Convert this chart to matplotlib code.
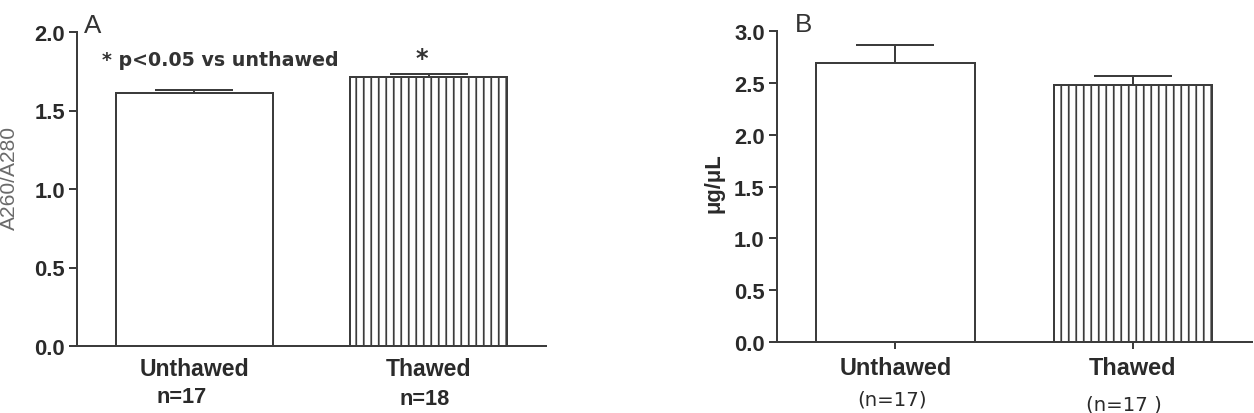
import matplotlib
matplotlib.use("Agg")
import matplotlib.pyplot as plt

# ---------------- data ----------------
groups = ["Unthawed", "Thawed"]
ratio_mean = [1.61, 1.715]
ratio_err = [0.02, 0.015]
ratio_n = ["n=17", "n=18"]
ratio_ticks = [0.0, 0.5, 1.0, 1.5, 2.0]

conc_mean = [2.69, 2.48]
conc_err = [0.17, 0.085]
conc_n = ["(n=17)", "(n=17 )"]
conc_ticks = [0.0, 0.5, 1.0, 1.5, 2.0, 2.5, 3.0]

# ---------------- style ----------------
DPI = 90
W, H = 1254, 414
PT = 72.0 / DPI          # points per pixel
LC = "#3c3c3c"           # line colour
TC = "#2a2a2a"           # text colour

plt.rcParams["font.family"] = ["Liberation Sans", "DejaVu Sans"]
plt.rcParams["hatch.linewidth"] = 1.4
plt.rcParams["hatch.color"] = LC

fig = plt.figure(figsize=(W / DPI, H / DPI), dpi=DPI)
fig.patch.set_facecolor("white")

axA = fig.add_axes([77 / W, 1 - 347 / H, 469 / W, 314 / H])
axB = fig.add_axes([776.7 / W, 1 - 343.3 / H, 474.8 / W, 311.6 / H])

x = list(range(len(groups)))
BAR_W = 0.668


def draw_panel(ax, means, errs, ticks, ymax, xticks_visible):
    bars = ax.bar(x, means, width=BAR_W, color="white", edgecolor=LC,
                  linewidth=1.6, zorder=2)
    bars[1].set_hatch("||")
    ax.errorbar(x, means, yerr=[[0] * len(errs), errs], fmt="none",
                ecolor=LC, elinewidth=1.6, capsize=39 * PT, capthick=1.6,
                zorder=3)
    ax.set_xlim(-0.5, 1.5)
    ax.set_ylim(0, ymax)
    ax.set_yticks(ticks)
    ax.set_yticklabels([f"{t:.1f}" for t in ticks])
    for s in ("top", "right"):
        ax.spines[s].set_visible(False)
    for s in ("left", "bottom"):
        ax.spines[s].set_color(LC)
        ax.spines[s].set_linewidth(1.6)
    ax.tick_params(axis="y", length=8 * PT, width=1.6, color=LC,
                   pad=4 * PT, labelsize=22 * PT, labelcolor=TC)
    for lab in ax.get_yticklabels():
        lab.set_fontweight("bold")
    ax.set_xticks(x)
    ax.set_xticklabels(["", ""])
    if xticks_visible:
        ax.tick_params(axis="x", length=7 * PT, width=1.6, color=LC)
    else:
        ax.tick_params(axis="x", length=0)


draw_panel(axA, ratio_mean, ratio_err, ratio_ticks, 2.0, False)
draw_panel(axB, conc_mean, conc_err, conc_ticks, 3.0, True)

# ---------------- category labels ----------------
def cat_label(ax, i, text, dx_px, dy_px, size_px, weight, family=None):
    kw = dict(xy=(i, 0), xycoords=("data", "axes fraction"),
              xytext=(dx_px * PT, -dy_px * PT), textcoords="offset points",
              ha="center", va="baseline", fontsize=size_px * PT,
              fontweight=weight, color=TC, annotation_clip=False)
    if family:
        kw["family"] = family
    ax.annotate(text, **kw)


for i, g in enumerate(groups):
    cat_label(axA, i, g, 0, 29, 23, "bold")
    cat_label(axB, i, g, 0, 31.7, 23.5, "bold")

cat_label(axA, 0, ratio_n[0], -13, 56, 21.7, "bold")
cat_label(axA, 1, ratio_n[1], -4.5, 58, 21.7, "bold")
cat_label(axB, 0, conc_n[0], -3.5, 62.7, 19.7, "normal", ["DejaVu Sans"])
cat_label(axB, 1, conc_n[1], -8.5, 67.7, 19.7, "normal", ["DejaVu Sans"])

# ---------------- y labels ----------------
axA.set_ylabel("A260/A280", fontsize=21 * PT, color="#6a6a6a", va="center")
axA.yaxis.set_label_coords((9 - 77) / 469, (347 - 178) / 314)
axB.set_ylabel("μg/μL", fontsize=22 * PT, color=TC, fontweight="bold",
               va="center")
axB.yaxis.set_label_coords((714 - 776.7) / 474.8, (343.3 - 183) / 311.6)

# ---------------- panel letters ----------------
axA.annotate("A", xy=(0, 1), xycoords="axes fraction", xytext=(7 * PT, 0),
             textcoords="offset points", ha="left", va="baseline",
             fontsize=26 * PT, color="#333333", annotation_clip=False)
axB.annotate("B", xy=(0, 1), xycoords="axes fraction", xytext=(18 * PT, 0),
             textcoords="offset points", ha="left", va="baseline",
             fontsize=26 * PT, color="#333333", annotation_clip=False)

# ---------------- significance annotation ----------------
axA.annotate("* p<0.05 vs unthawed", xy=(0, 1), xycoords="axes fraction",
             xytext=(25 * PT, -33 * PT), textcoords="offset points",
             ha="left", va="baseline", fontsize=19 * PT, fontweight="bold",
             family=["DejaVu Sans"], color="#333333", annotation_clip=False)
axA.annotate("*", xy=(1, ratio_mean[1] + ratio_err[1]), xycoords="data",
             xytext=(-7 * PT, 9.7 * PT), textcoords="offset points",
             ha="center", va="baseline", fontsize=24 * PT, fontweight="bold",
             family=["DejaVu Sans"], color="#333333", annotation_clip=False)

fig.savefig("out.png", dpi=DPI, facecolor="white")
